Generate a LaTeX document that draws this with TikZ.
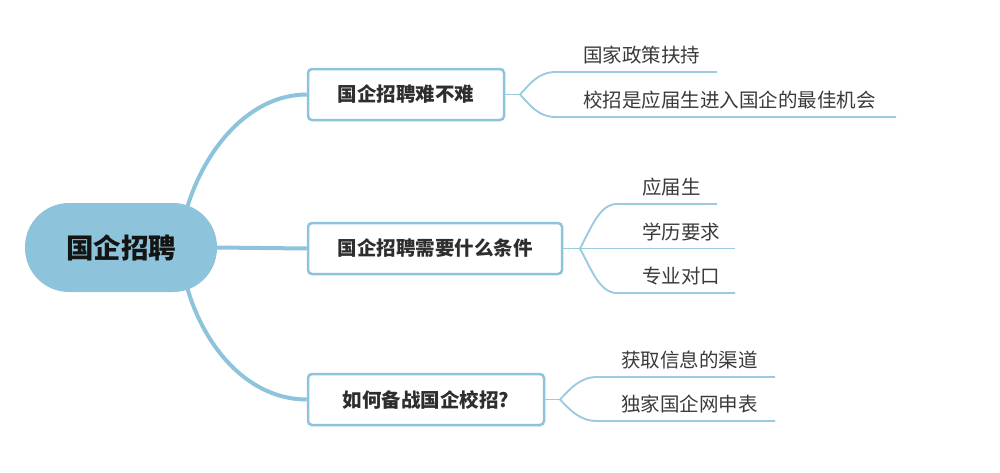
\documentclass[tikz,border=0pt]{standalone}
\usepackage{fontspec}
\newfontfamily\cjk{Noto Sans CJK SC}
\definecolor{brc}{HTML}{8EC3DC}
\definecolor{subc}{HTML}{9CCAE0}
\definecolor{txtc}{HTML}{2E2E2E}
\definecolor{leafc}{HTML}{3A3A3A}
\begin{document}
\begin{tikzpicture}[x=1pt,y=-1pt,
  branch/.style={draw=brc, line width=4pt},
  sub/.style={draw=subc, line width=1.9pt},
  rootbox/.style={fill=brc, rounded corners=44pt, minimum width=192pt, minimum height=89pt, inner sep=0pt, font=\cjk\bfseries\fontsize{27.5}{32}\selectfont, text=black!92},
  topicbox/.style={draw=brc, line width=2.5pt, fill=white, rounded corners=4pt, minimum height=51pt, inner sep=0pt, font=\cjk\bfseries\fontsize{19.5}{24}\selectfont, text=txtc},
  leaf/.style={anchor=west, inner sep=0pt, font=\cjk\fontsize{19.5}{24}\selectfont, text=leafc}]
\useasboundingbox (0,0) rectangle (1000,472);
% nodes
\node[rootbox] (root) at (121,247.5) {国企招聘};
\node[topicbox, minimum width=196pt] (t1) at (406,94.5) {国企招聘难不难};
\node[topicbox, minimum width=254pt] (t2) at (435,248.5) {国企招聘需要什么条件};
\node[topicbox, minimum width=236pt] (t3) at (426,399.5) {如何备战国企校招?};
% root branch anchors
\coordinate (r1) at (187,208);
\coordinate (r3) at (187,287);
\draw[branch] (r1) .. controls (205,148) and (250,94.5) .. (t1.west);
\draw[branch] (root.east) -- (t2.west);
\draw[branch] (r3) .. controls (205,350) and (250,399.5) .. (t3.west);
% leaves of topic 1
\coordinate (f1) at (520,94.5);
\coordinate (a1s) at (556,72); \coordinate (a1e) at (717,72);
\coordinate (a2s) at (556,117); \coordinate (a2e) at (896,117);
\draw[sub] (t1.east) -- (f1);
\draw[sub] (f1) .. controls (530,84) and (538,72) .. (a1s) -- (a1e);
\draw[sub] (f1) .. controls (530,105) and (538,117) .. (a2s) -- (a2e);
\node[leaf] (a1) at (583,55) {国家政策扶持};
\node[leaf] (a2) at (583,100) {校招是应届生进入国企的最佳机会};
% leaves of topic 2
\coordinate (f2) at (580,248.5);
\coordinate (b1s) at (617,204); \coordinate (b1e) at (717,204);
\coordinate (b2e) at (735,248.5);
\coordinate (b3s) at (617,293); \coordinate (b3e) at (735,293);
\draw[sub] (t2.east) -- (f2);
\draw[sub] (f2) .. controls (592,226) and (600,204) .. (b1s) -- (b1e);
\draw[sub] (f2) -- (b2e);
\draw[sub] (f2) .. controls (592,271) and (600,293) .. (b3s) -- (b3e);
\node[leaf] (b1) at (642,187) {应届生};
\node[leaf] (b2) at (642,232) {学历要求};
\node[leaf] (b3) at (642,276) {专业对口};
% leaves of topic 3
\coordinate (f3) at (560,399.5);
\coordinate (c1s) at (597,377); \coordinate (c1e) at (775,377);
\coordinate (c2s) at (597,421); \coordinate (c2e) at (775,421);
\draw[sub] (t3.east) -- (f3);
\draw[sub] (f3) .. controls (570,389) and (580,377) .. (c1s) -- (c1e);
\draw[sub] (f3) .. controls (570,410) and (580,421) .. (c2s) -- (c2e);
\node[leaf] (c1) at (621,360) {获取信息的渠道};
\node[leaf] (c2) at (621,404) {独家国企网申表};
\end{tikzpicture}
\end{document}
